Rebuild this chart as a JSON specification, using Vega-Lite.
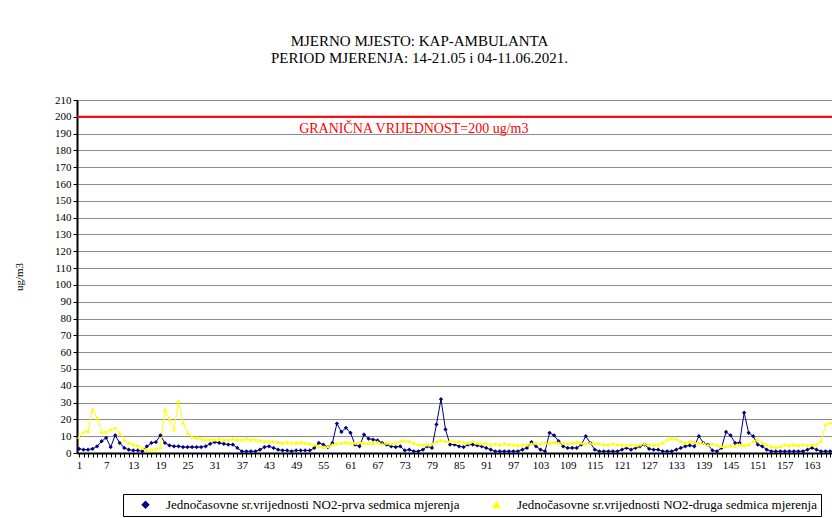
{
  "$schema": "https://vega.github.io/schema/vega-lite/v6.json",
  "width": 755,
  "height": 353,
  "autosize": {"type": "none"},
  "padding": {"left": 77, "top": 100, "right": 0, "bottom": 65},
  "background": "white",
  "title": {
    "text": ["MJERNO MJESTO: KAP-AMBULANTA", "PERIOD MJERENJA: 14-21.05 i 04-11.06.2021."],
    "font": "Liberation Serif",
    "fontSize": 15,
    "fontWeight": "normal",
    "lineHeight": 17,
    "anchor": "middle",
    "dx": -35,
    "offset": 28,
    "color": "#000"
  },
  "config": {
    "view": {"stroke": "#000", "strokeWidth": 1},
    "axis": {"labelFont": "Liberation Serif", "labelFontSize": 11, "labelColor": "#000", "titleFont": "Liberation Serif", "titleFontSize": 11, "titleFontWeight": "normal", "titleColor": "#000", "domainColor": "#000", "tickColor": "#000"}
  },
  "datasets": {
    "no2": [
    {"h":1,"a":2.5,"b":9.5},{"h":2,"a":2,"b":12.5},{"h":3,"a":2,"b":13},{"h":4,"a":2.5,"b":26},{"h":5,"a":4,"b":21},
    {"h":6,"a":7,"b":12.5},{"h":7,"a":9,"b":12.5},{"h":8,"a":3.5,"b":14},{"h":9,"a":10.5,"b":15},{"h":10,"a":6,"b":12},
    {"h":11,"a":3,"b":8},{"h":12,"a":2,"b":6},{"h":13,"a":1.5,"b":5},{"h":14,"a":1.5,"b":4.5},{"h":15,"a":1,"b":3},
    {"h":16,"a":4,"b":1.5},{"h":17,"a":6,"b":2},{"h":18,"a":6.5,"b":2.5},{"h":19,"a":10.5,"b":3.5},{"h":20,"a":6,"b":26},
    {"h":21,"a":4.5,"b":20},{"h":22,"a":4,"b":14},{"h":23,"a":4,"b":31},{"h":24,"a":3.5,"b":18},{"h":25,"a":3.5,"b":12},
    {"h":26,"a":3.5,"b":9.5},{"h":27,"a":3.5,"b":9},{"h":28,"a":3.5,"b":8.5},{"h":29,"a":4,"b":8},{"h":30,"a":5.5,"b":8},
    {"h":31,"a":6.5,"b":8},{"h":32,"a":6,"b":8.5},{"h":33,"a":5.5,"b":8},{"h":34,"a":5,"b":8},{"h":35,"a":5,"b":8.5},
    {"h":36,"a":3,"b":8},{"h":37,"a":1,"b":8},{"h":38,"a":1,"b":8.5},{"h":39,"a":1,"b":8},{"h":40,"a":1,"b":8},
    {"h":41,"a":2,"b":7.5},{"h":42,"a":3.5,"b":7},{"h":43,"a":4,"b":7},{"h":44,"a":3,"b":7},{"h":45,"a":2,"b":6.5},
    {"h":46,"a":1.5,"b":6},{"h":47,"a":1.5,"b":6.5},{"h":48,"a":1,"b":6},{"h":49,"a":1.5,"b":6},{"h":50,"a":1.5,"b":6.5},
    {"h":51,"a":1.5,"b":6},{"h":52,"a":1.5,"b":5.5},{"h":53,"a":3,"b":5},{"h":54,"a":6,"b":4},{"h":55,"a":5,"b":3.5},
    {"h":56,"a":3.5,"b":4},{"h":57,"a":6,"b":5},{"h":58,"a":17.5,"b":5.5},{"h":59,"a":12.5,"b":6},{"h":60,"a":15,"b":6.5},
    {"h":61,"a":12,"b":6},{"h":62,"a":5,"b":6},{"h":63,"a":4,"b":6.5},{"h":64,"a":11,"b":6},{"h":65,"a":8.5,"b":6},
    {"h":66,"a":8,"b":6},{"h":67,"a":7.5,"b":6.5},{"h":68,"a":6,"b":5.5},{"h":69,"a":5,"b":6},{"h":70,"a":4,"b":5.5},
    {"h":71,"a":3.5,"b":6},{"h":72,"a":4,"b":7},{"h":73,"a":1.5,"b":7.5},{"h":74,"a":2,"b":7},{"h":75,"a":1,"b":6},
    {"h":76,"a":1,"b":5},{"h":77,"a":2,"b":5},{"h":78,"a":4,"b":5},{"h":79,"a":3,"b":5.5},{"h":80,"a":17,"b":7},
    {"h":81,"a":32,"b":7.5},{"h":82,"a":14,"b":7},{"h":83,"a":5,"b":7},{"h":84,"a":5,"b":6.5},{"h":85,"a":4,"b":7},
    {"h":86,"a":3.5,"b":6},{"h":87,"a":5,"b":6},{"h":88,"a":5,"b":7},{"h":89,"a":4.5,"b":6},{"h":90,"a":4,"b":5.5},
    {"h":91,"a":3,"b":6},{"h":92,"a":2,"b":5},{"h":93,"a":1,"b":5.5},{"h":94,"a":1,"b":5},{"h":95,"a":1,"b":5.5},
    {"h":96,"a":1,"b":5},{"h":97,"a":1,"b":5},{"h":98,"a":1,"b":4.5},{"h":99,"a":2,"b":5},{"h":100,"a":3,"b":5},
    {"h":101,"a":6.5,"b":5.5},{"h":102,"a":4,"b":6},{"h":103,"a":2,"b":5.5},{"h":104,"a":1,"b":6},{"h":105,"a":12,"b":6},
    {"h":106,"a":10.5,"b":6.5},{"h":107,"a":7,"b":6},{"h":108,"a":4,"b":6},{"h":109,"a":3,"b":5.5},{"h":110,"a":3,"b":6},
    {"h":111,"a":3,"b":6.5},{"h":112,"a":5,"b":6},{"h":113,"a":10,"b":5.5},{"h":114,"a":6,"b":6},{"h":115,"a":2,"b":5.5},
    {"h":116,"a":1,"b":5.5},{"h":117,"a":1,"b":5},{"h":118,"a":1,"b":5},{"h":119,"a":1,"b":5.5},{"h":120,"a":1,"b":5},
    {"h":121,"a":2,"b":5},{"h":122,"a":3,"b":4.5},{"h":123,"a":2,"b":5},{"h":124,"a":3,"b":4.5},{"h":125,"a":4,"b":5},
    {"h":126,"a":5,"b":5.5},{"h":127,"a":2.5,"b":5},{"h":128,"a":2,"b":5},{"h":129,"a":2,"b":5},{"h":130,"a":1,"b":6},
    {"h":131,"a":1,"b":8},{"h":132,"a":1,"b":9},{"h":133,"a":2,"b":8.5},{"h":134,"a":3,"b":7},{"h":135,"a":4,"b":6},
    {"h":136,"a":4.5,"b":7},{"h":137,"a":4,"b":6.5},{"h":138,"a":10,"b":6},{"h":139,"a":6,"b":6},{"h":140,"a":5,"b":5},
    {"h":141,"a":1.5,"b":5.5},{"h":142,"a":1,"b":4.5},{"h":143,"a":3,"b":4},{"h":144,"a":12.5,"b":4},{"h":145,"a":10.5,"b":4.5},
    {"h":146,"a":6,"b":4},{"h":147,"a":6,"b":5},{"h":148,"a":24,"b":4.5},{"h":149,"a":12,"b":5},{"h":150,"a":10,"b":7},
    {"h":151,"a":5,"b":8},{"h":152,"a":4,"b":6},{"h":153,"a":2,"b":5},{"h":154,"a":1,"b":4},{"h":155,"a":1,"b":3.5},
    {"h":156,"a":1,"b":4},{"h":157,"a":1,"b":5},{"h":158,"a":1,"b":4.5},{"h":159,"a":1,"b":5},{"h":160,"a":1,"b":4.5},
    {"h":161,"a":1,"b":5},{"h":162,"a":2,"b":4.5},{"h":163,"a":3,"b":5},{"h":164,"a":2,"b":5},{"h":165,"a":1,"b":7},
    {"h":166,"a":1,"b":17},{"h":167,"a":1,"b":18},{"h":168,"a":1,"b":18}
    ],
    "limit": [{"y": 200, "t": "GRANIČNA VRIJEDNOST=200 ug/m3", "x": 75, "ty": 193}]
  },
  "layer": [
    {
      "data": {"name": "no2"},
      "transform": [{"fold": ["a", "b"], "as": ["s", "v"]}],
      "encoding": {
        "x": {
          "field": "h", "type": "quantitative",
          "scale": {"domain": [0.56, 167.42], "nice": false, "zero": false},
          "axis": {"title": null, "tickCount": 168, "labelExpr": "(datum.value - 1) % 6 == 0 ? datum.label : ''", "labelOverlap": false, "labelFlush": false, "grid": false, "domainWidth": 2, "tickSize": 4, "labelPadding": 2}
        },
        "y": {
          "field": "v", "type": "quantitative",
          "scale": {"domain": [0, 210], "nice": false},
          "axis": {"title": "ug/m3", "titleFontWeight": "normal", "values": [0,10,20,30,40,50,60,70,80,90,100,110,120,130,140,150,160,170,180,190,200,210], "grid": true, "gridColor": "#8c8c8c", "gridWidth": 1, "domainWidth": 2, "tickSize": 4, "labelPadding": 2, "titlePadding": 30}
        },
        "color": {
          "field": "s", "type": "nominal",
          "scale": {"domain": ["a", "b"], "range": ["#000080", "#FFFF00"]},
          "legend": {
            "title": null, "orient": "none", "legendX": 46, "legendY": 394, "direction": "horizontal",
            "labelExpr": "datum.label == 'a' ? 'Jednočasovne sr.vrijednosti NO2-prva sedmica mjerenja' : 'Jednočasovne sr.vrijednosti NO2-druga sedmica mjerenja'",
            "labelFont": "Liberation Serif", "labelFontSize": 13, "labelColor": "#000", "labelLimit": 400,
            "strokeColor": "#000", "fillColor": "#fff", "padding": 4, "columnPadding": 18, "symbolSize": 40,
            "symbolOffset": 12, "labelOffset": 14
          }
        }
      },
      "layer": [
        {"mark": {"type": "line", "strokeWidth": 1, "clip": true}},
        {"mark": {"type": "point", "filled": true, "size": 18, "opacity": 1, "clip": true},
         "encoding": {"shape": {"field": "s", "type": "nominal", "scale": {"domain": ["a", "b"], "range": ["diamond", "triangle-up"]}}}}
      ]
    },
    {
      "data": {"name": "limit"},
      "layer": [
        {"mark": {"type": "rule", "color": "#ff0000", "strokeWidth": 2},
         "encoding": {"y": {"field": "y", "type": "quantitative", "axis": {"title": "ug/m3", "titleFontWeight": "normal", "values": [0,10,20,30,40,50,60,70,80,90,100,110,120,130,140,150,160,170,180,190,200,210], "grid": true, "gridColor": "#8c8c8c", "gridWidth": 1, "domainWidth": 2, "tickSize": 4, "labelPadding": 2, "titlePadding": 30}}}},
        {"mark": {"type": "text", "color": "#ff0000", "font": "Liberation Serif", "fontSize": 14, "align": "center", "baseline": "middle"},
         "encoding": {
           "x": {"field": "x", "type": "quantitative", "axis": {"title": null, "tickCount": 168, "labelExpr": "(datum.value - 1) % 6 == 0 ? datum.label : ''", "labelOverlap": false, "labelFlush": false, "grid": false, "domainWidth": 2, "tickSize": 4, "labelPadding": 2}},
           "y": {"field": "ty", "type": "quantitative", "axis": {"title": "ug/m3", "titleFontWeight": "normal", "values": [0,10,20,30,40,50,60,70,80,90,100,110,120,130,140,150,160,170,180,190,200,210], "grid": true, "gridColor": "#8c8c8c", "gridWidth": 1, "domainWidth": 2, "tickSize": 4, "labelPadding": 2, "titlePadding": 30}},
           "text": {"field": "t"}}}
      ]
    }
  ]
}
